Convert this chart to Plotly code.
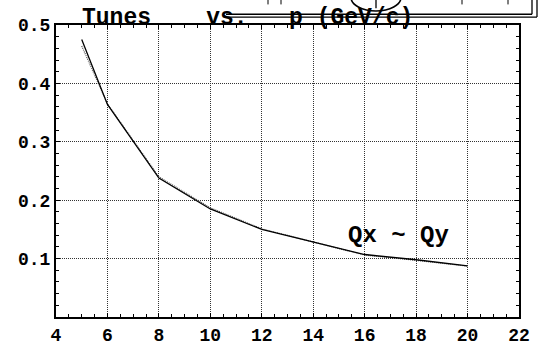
import plotly.graph_objects as go

# Momentum scan (GeV/c) and the two tunes
p_gev = [5, 6, 8, 10, 12, 14, 16, 18, 20]
qx = [0.475, 0.364, 0.238, 0.185, 0.150, 0.129, 0.107, 0.098, 0.0877]
qy = [0.464, 0.365, 0.240, 0.187, 0.151, 0.129, 0.106, 0.097, 0.087]

x_ticks = [4, 6, 8, 10, 12, 14, 16, 18, 20, 22]
y_ticks = [0.1, 0.2, 0.3, 0.4, 0.5]
y_tick_text = ["0.1", "0.2", "0.3", "0.4", "0.5"]

W, H = 552, 358
ML, MR, MT, MB = 56, 33, 25, 21
PW, PH = W - ML - MR, H - MT - MB

FONT = "Liberation Mono"


def px(x):
    return (x - ML) / PW


def py(y):
    return (H - MB - y) / PH


fig = go.Figure()

fig.add_trace(go.Scatter(
    x=p_gev, y=qy, mode="lines",
    line=dict(color="#555555", width=1.2, dash="1px,1px"),
    showlegend=False, hoverinfo="skip",
))
fig.add_trace(go.Scatter(
    x=p_gev, y=qx, mode="lines",
    line=dict(color="black", width=1.3),
    showlegend=False, hoverinfo="skip",
))

axis_common = dict(
    showline=True, linecolor="black", linewidth=2, mirror="ticks",
    ticks="inside", ticklen=4, tickwidth=1, tickcolor="black",
    showgrid=True, gridcolor="#333333", gridwidth=1, griddash="1px,1px",
    zeroline=False,
    tickfont=dict(family=FONT, size=18, color="black", weight="bold"),
)

fig.update_xaxes(
    range=[4, 22], tickvals=x_ticks, ticktext=[str(v) for v in x_ticks],
    minor=dict(dtick=0.5, tick0=4, ticks="inside", ticklen=3, tickcolor="black", showgrid=False),
    **axis_common,
)
fig.update_yaxes(
    range=[0, 0.5], tickvals=y_ticks, ticktext=y_tick_text,
    minor=dict(dtick=0.02, tick0=0, ticks="inside", ticklen=3, tickcolor="black", showgrid=False),
    **axis_common,
)

nb = "\u00a0"
title_text = "Tunes" + nb * 4 + "vs." + nb * 3 + "p" + nb + "(GeV/c)"

fig.add_annotation(
    text=title_text, xref="paper", yref="paper",
    x=px(80), y=py(17.5), xanchor="left", yanchor="middle",
    showarrow=False,
    font=dict(family=FONT, size=23, color="black", weight="bold"),
)
fig.add_annotation(
    text="Qx" + nb + "~" + nb + "Qy", x=17.3, y=0.139,
    xanchor="center", yanchor="middle", showarrow=False,
    font=dict(family=FONT, size=24, color="black", weight="bold"),
)

# Framed label box partly cut off at the top edge
box_line = dict(color="black", width=1.3)
shapes = [
    dict(type="line", xref="paper", yref="paper", x0=px(226), x1=px(532), y0=py(13.5), y1=py(13.5), line=box_line),
    dict(type="line", xref="paper", yref="paper", x0=px(226), x1=px(537), y0=py(16.5), y1=py(16.5), line=box_line),
    dict(type="line", xref="paper", yref="paper", x0=px(532), x1=px(532), y0=py(13.5), y1=py(-2), line=box_line),
    dict(type="line", xref="paper", yref="paper", x0=px(537), x1=px(537), y0=py(16.5), y1=py(-2), line=box_line),
    dict(type="circle", xref="paper", yref="paper", x0=px(351), x1=px(401), y0=py(-19), y1=py(10),
         line=dict(color="black", width=1.6)),
    dict(type="line", xref="paper", yref="paper", x0=px(376), x1=px(376), y0=py(-2), y1=py(7), line=box_line),
]
for xm in (268, 281, 462, 508):
    shapes.append(dict(type="line", xref="paper", yref="paper", x0=px(xm), x1=px(xm),
                       y0=py(-2), y1=py(3), line=dict(color="black", width=1)))
fig.update_layout(shapes=shapes)

fig.update_layout(
    width=W, height=H,
    margin=dict(l=ML, r=MR, t=MT, b=MB, pad=0),
    paper_bgcolor="white", plot_bgcolor="white",
    showlegend=False,
)

fig.write_html("out.html")
